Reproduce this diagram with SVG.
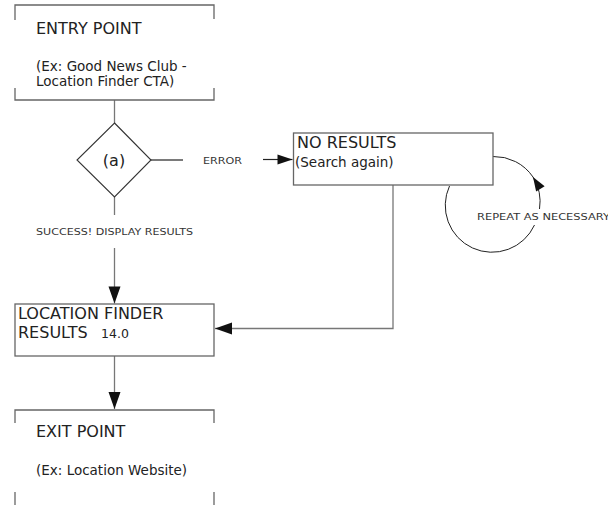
<svg xmlns="http://www.w3.org/2000/svg" width="608" height="505" viewBox="0 0 608 505">
<style>
  .bracket { fill: none; stroke: #666; stroke-width: 1.3; }
  .box { fill: #fff; stroke: #666; stroke-width: 1.3; }
  .diamond { fill: #fff; stroke: #333; stroke-width: 1.1; }
  .line { fill: none; stroke: #777; stroke-width: 1.3; }
  .dark { fill: none; stroke: #222; stroke-width: 1.2; }
  .loop { fill: none; stroke: #222; stroke-width: 1; }
  .big { font-family: "DejaVu Sans", Verdana, sans-serif; font-size: 16px; fill: #222; }
  .mid { font-family: "DejaVu Sans", Verdana, sans-serif; font-size: 13.5px; fill: #222; }
  .num { font-family: "DejaVu Sans", Verdana, sans-serif; font-size: 12.5px; fill: #222; }
  .small { font-family: "DejaVu Sans", Verdana, sans-serif; font-size: 9px; fill: #333; }
</style>
<defs>
  <marker id="arrow" markerUnits="userSpaceOnUse" markerWidth="19" markerHeight="13" refX="17" refY="6" orient="auto" overflow="visible">
    <path d="M0,0 L17,6 L0,12 z" fill="#111"/>
  </marker>
  <marker id="arrowMid" markerUnits="userSpaceOnUse" markerWidth="17" markerHeight="12" refX="15" refY="5" orient="auto" overflow="visible">
    <path d="M0,0 L15,5 L0,10 z" fill="#111"/>
  </marker>
  <marker id="arrowSmall" markerUnits="userSpaceOnUse" markerWidth="16" markerHeight="11" refX="14" refY="5" orient="auto" overflow="visible">
    <path d="M0,0 L14,5 L0,10 z" fill="#111"/>
  </marker>
</defs>

<g id="connectors">
  <line class="line" x1="114.5" y1="100" x2="114.5" y2="123"/>
  <line class="dark" x1="151" y1="160" x2="183" y2="160"/>
  <line class="dark" x1="263" y1="159.5" x2="292.5" y2="159.5" marker-end="url(#arrowMid)"/>
  <line class="line" x1="114.5" y1="197" x2="114.5" y2="215"/>
  <line class="line" x1="114.5" y1="248" x2="114.5" y2="303.5" marker-end="url(#arrow)"/>
  <line class="line" x1="114.5" y1="356" x2="114.5" y2="409" marker-end="url(#arrow)"/>
  <polyline class="line" points="393,185 393,328.5 215,328.5" marker-end="url(#arrow)"/>
  <path class="loop" d="M 493,156.5 A 47 47 0 0 1 533,177"/>
  <path class="loop" d="M 539.5,209 A 47 47 0 0 0 533,177" marker-end="url(#arrowSmall)"/>
  <path class="loop" d="M 534.5,225 A 46.5 46.5 0 0 1 449.5,186"/>
  <text class="small" x="203" y="163.5" textLength="39" lengthAdjust="spacingAndGlyphs">ERROR</text>
  <text class="small" x="36" y="234.5" textLength="157" lengthAdjust="spacingAndGlyphs">SUCCESS! DISPLAY RESULTS</text>
  <text class="small" x="477" y="220" textLength="133" lengthAdjust="spacingAndGlyphs">REPEAT AS NECESSARY</text>
</g>

<g id="entry-point">
  <polyline class="bracket" points="15,20 15,5 214,5 214,19"/>
  <polyline class="bracket" points="15,88 15,100 214,100 214,88"/>
  <text class="big" x="36" y="33.5">ENTRY POINT</text>
  <text class="mid" x="36" y="70.5">(Ex: Good News Club -</text>
  <text class="mid" x="36" y="85.5">Location Finder CTA)</text>
</g>

<g id="decision">
  <polygon class="diamond" points="114.5,123 151,160 114.5,197 77,160"/>
  <text class="big" x="114" y="166" text-anchor="middle" font-size="15">(a)</text>
</g>

<g id="no-results">
  <rect class="box" x="293.5" y="133" width="199.5" height="52"/>
  <text class="big" x="297" y="147.5">NO RESULTS</text>
  <text class="mid" x="295" y="166.5">(Search again)</text>
</g>

<g id="location-finder-results">
  <rect class="box" x="15" y="304" width="199" height="52"/>
  <text class="big" x="18" y="318.5">LOCATION FINDER</text>
  <text class="big" x="18" y="337.5">RESULTS</text>
  <text class="num" x="101" y="337.5">14.0</text>
</g>

<g id="exit-point">
  <polyline class="bracket" points="15,423 15,410 214,410 214,423"/>
  <line class="bracket" x1="15" y1="492" x2="15" y2="505"/>
  <line class="bracket" x1="214" y1="492" x2="214" y2="505"/>
  <text class="big" x="36" y="437">EXIT POINT</text>
  <text class="mid" x="36" y="475">(Ex: Location Website)</text>
</g>
</svg>
